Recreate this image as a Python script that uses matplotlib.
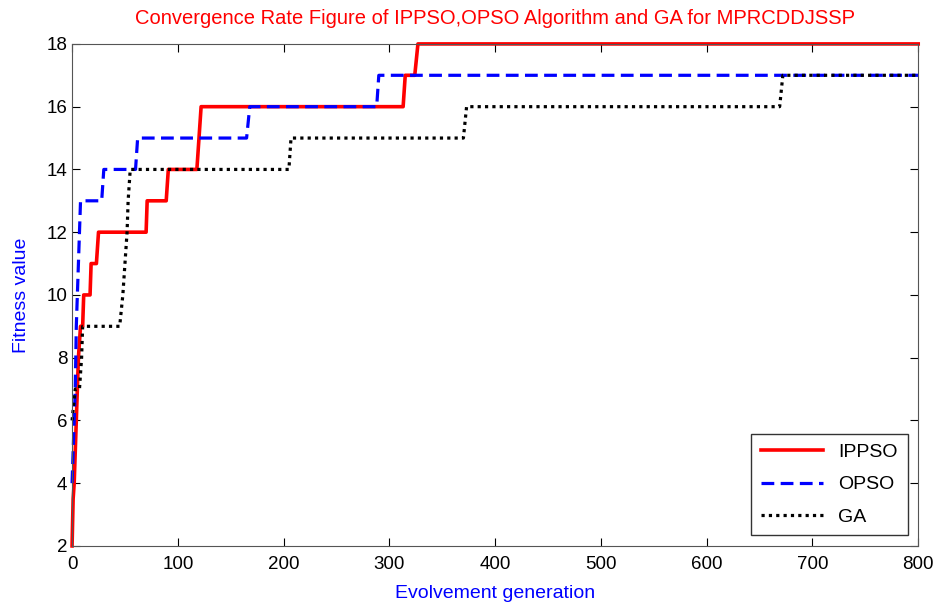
import matplotlib.pyplot as plt

plt.rcParams['font.family'] = ['Liberation Sans', 'DejaVu Sans']

# step curves (generation, fitness)
ippso_x = [0, 1, 2, 3, 4, 5, 6, 8, 10, 11, 17, 18, 23, 25, 70, 71, 89, 91, 118, 120, 122, 313, 315, 324, 327, 800]
ippso_y = [2, 3.5, 4, 5, 6, 7, 8, 9, 9, 10, 10, 11, 11, 12, 12, 13, 13, 14, 14, 15, 16, 16, 17, 17, 18, 18]

opso_x = [0, 1, 2, 3, 4, 5, 7, 8, 28, 30, 60, 62, 165, 168, 288, 290, 800]
opso_y = [4, 5, 6, 7, 9, 10, 12, 13, 13, 14, 14, 15, 15, 16, 16, 17, 17]

ga_x = [0, 3, 7, 9, 10, 45, 48, 50, 52, 53, 55, 205, 207, 370, 373, 669, 672, 800]
ga_y = [6, 7, 7, 8, 9, 9, 10, 11, 12, 13, 14, 14, 15, 15, 16, 16, 17, 17]

fig = plt.figure(figsize=(9.36, 6.1), dpi=100)
ax = fig.add_axes([0.077, 0.105, 0.904, 0.823])

ax.plot(ippso_x, ippso_y, color='red', lw=2.6, label='IPPSO', clip_on=False)
ax.plot(opso_x, opso_y, color='blue', lw=2.3, ls=(0, (4, 2)), label='OPSO', clip_on=False)
ax.plot(ga_x, ga_y, color='black', lw=2.3, ls=(0, (1, 1.3)), label='GA', clip_on=False)

ax.set_xlim(0, 800)
ax.set_ylim(2, 18)
ax.set_xticks(range(0, 801, 100))
ax.set_yticks(range(2, 19, 2))
ax.tick_params(direction='in', top=True, right=True, labelsize=13.5, length=6)
ax.tick_params(axis='x', pad=7)
for s in ax.spines.values():
    s.set_color('#555555')

ax.set_title('Convergence Rate Figure of IPPSO,OPSO Algorithm and GA for MPRCDDJSSP',
             color='red', fontsize=14.5, pad=14)
ax.set_xlabel('Evolvement generation', color='blue', fontsize=14, labelpad=9)
ax.set_ylabel('Fitness value', color='blue', fontsize=14, labelpad=12)

leg = ax.legend(loc='lower right', fontsize=14, fancybox=False, edgecolor='black',
                handlelength=3.2, borderpad=0.5, labelspacing=0.75, borderaxespad=0.55)
leg.get_frame().set_linewidth(1.0)

fig.savefig('out.png', dpi=100)
